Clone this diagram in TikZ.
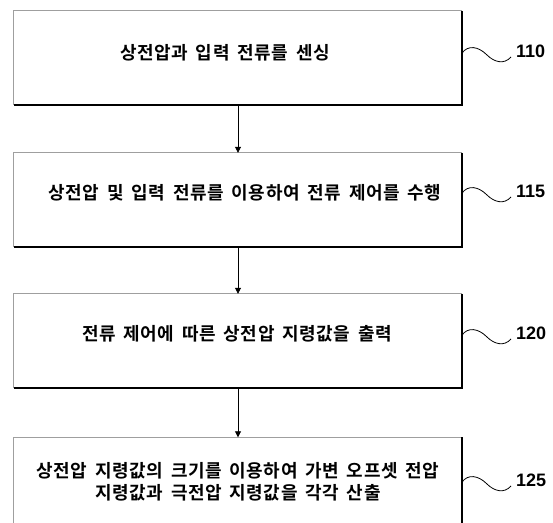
\documentclass[tikz,border=0pt]{standalone}
\usepackage{fontspec}
\newfontfamily\kr{Noto Sans CJK KR Bold}[LetterSpace=3,WordSpace=1.7]
\newfontfamily\lbl{Liberation Sans}
\usetikzlibrary{arrows.meta}
\tikzset{
  stepbox/.style={draw=none, minimum width=448pt, minimum height=94pt, inner sep=0pt},
  steptext/.style={font=\kr\fontsize{18}{21}\selectfont, align=center, inner sep=0pt},
  reflabel/.style={font=\lbl\bfseries\fontsize{18}{20}\selectfont, inner sep=0pt, anchor=west},
  flow/.style={draw=black, line width=0.8pt, -{Triangle[length=6pt,width=6pt]}},
  squiggle/.style={draw=black, line width=0.8pt},
}
% gray top/left edges, heavy black right/bottom edges
\newcommand{\boxedges}[1]{%
  \draw[gray!75, line width=1pt] (#1.south west) -- (#1.north west) -- (#1.north east);
  \draw[black, line width=2pt] (#1.north east) -- (#1.south east) -- (#1.south west);
}
\begin{document}
\begin{tikzpicture}[x=1pt, y=-1pt]
  \useasboundingbox[fill=white] (0,0) rectangle (553,522);
  \begin{scope}
  \clip (0,0) rectangle (553,522);

  \node[stepbox] (b1) at (238,58) {};
  \node[stepbox] (b2) at (238,200) {};
  \node[stepbox] (b3) at (238,341) {};
  \node[stepbox] (b4) at (238,484.5) {};
  \boxedges{b1}
  \boxedges{b2}
  \boxedges{b3}
  \boxedges{b4}

  \node[steptext] (t1) at (225,53) {상전압과 입력 전류를 센싱};
  \node[steptext] (t2) at (245,193) {상전압 및 입력 전류를 이용하여 전류 제어를 수행};
  \node[steptext] (t3) at (237,334) {전류 제어에 따른 상전압 지령값을 출력};
  \node[steptext] (t4) at (238,482) {상전압 지령값의 크기를 이용하여 가변 오프셋 전압\\[1pt]지령값과 극전압 지령값을 각각 산출};

  \draw[flow] (b1.south) -- (b2.north);
  \draw[flow] (b2.south) -- (b3.north);
  \draw[flow] (b3.south) -- (b4.north);

  % reference numerals with their leader squiggles
  \foreach \b/\y/\n in {b1/53/110, b2/193/115, b3/335/120, b4/482/125}{
    \coordinate (s\n) at (462,\y);
    \coordinate (e\n) at (511,\y+4);
    \draw[squiggle] (s\n) .. controls (468,\y-8) and (478,\y-7) .. (487,\y+2)
                          .. controls (494,\y+9) and (504,\y+12) .. (e\n);
    \node[reflabel] (l\n) at (516,\y-2) {\n};
  }
  \end{scope}
\end{tikzpicture}
\end{document}
